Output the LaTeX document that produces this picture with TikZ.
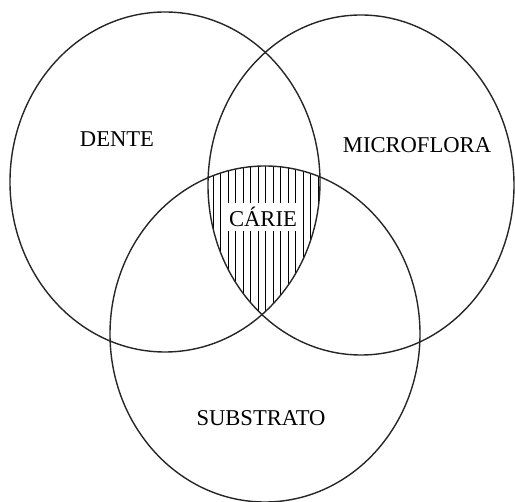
\documentclass[tikz,border=0pt]{standalone}
\usepackage{fontspec}
\setmainfont{Liberation Serif}
\begin{document}
\begin{tikzpicture}[x=0.5pt,y=-0.5pt,
  ring/.style={draw=black!85,line width=0.7pt},
  hatchline/.style={draw=black,line width=0.4pt},
  lbl/.style={font=\fontsize{11.3}{13}\selectfont,inner sep=1pt}]
\useasboundingbox (0,0) rectangle (515,502);
% hatching of the common region
\begin{scope}
  \clip (165,182) ellipse [x radius=155, y radius=170];
  \clip (361,185) ellipse [x radius=153, y radius=170];
  \clip (265,334) ellipse [x radius=155, y radius=168];
  \foreach \i in {0,...,15} {
    \draw[hatchline] (213+7.5*\i,150) -- (213+7.5*\i,360);
  }
\end{scope}
\node[lbl,fill=white,inner sep=2pt] (carie) at (263,217) {CÁRIE};
% circles
\draw[ring] (165,182) ellipse [x radius=155, y radius=170];
\draw[ring] (361,185) ellipse [x radius=153, y radius=170];
\draw[ring] (265,334) ellipse [x radius=155, y radius=168];
% labels
\node[lbl] (dente) at (117,139) {DENTE};
\node[lbl] (micro) at (417,145) {MICROFLORA};
\node[lbl] (subs) at (261,418) {SUBSTRATO};
\end{tikzpicture}
\end{document}
